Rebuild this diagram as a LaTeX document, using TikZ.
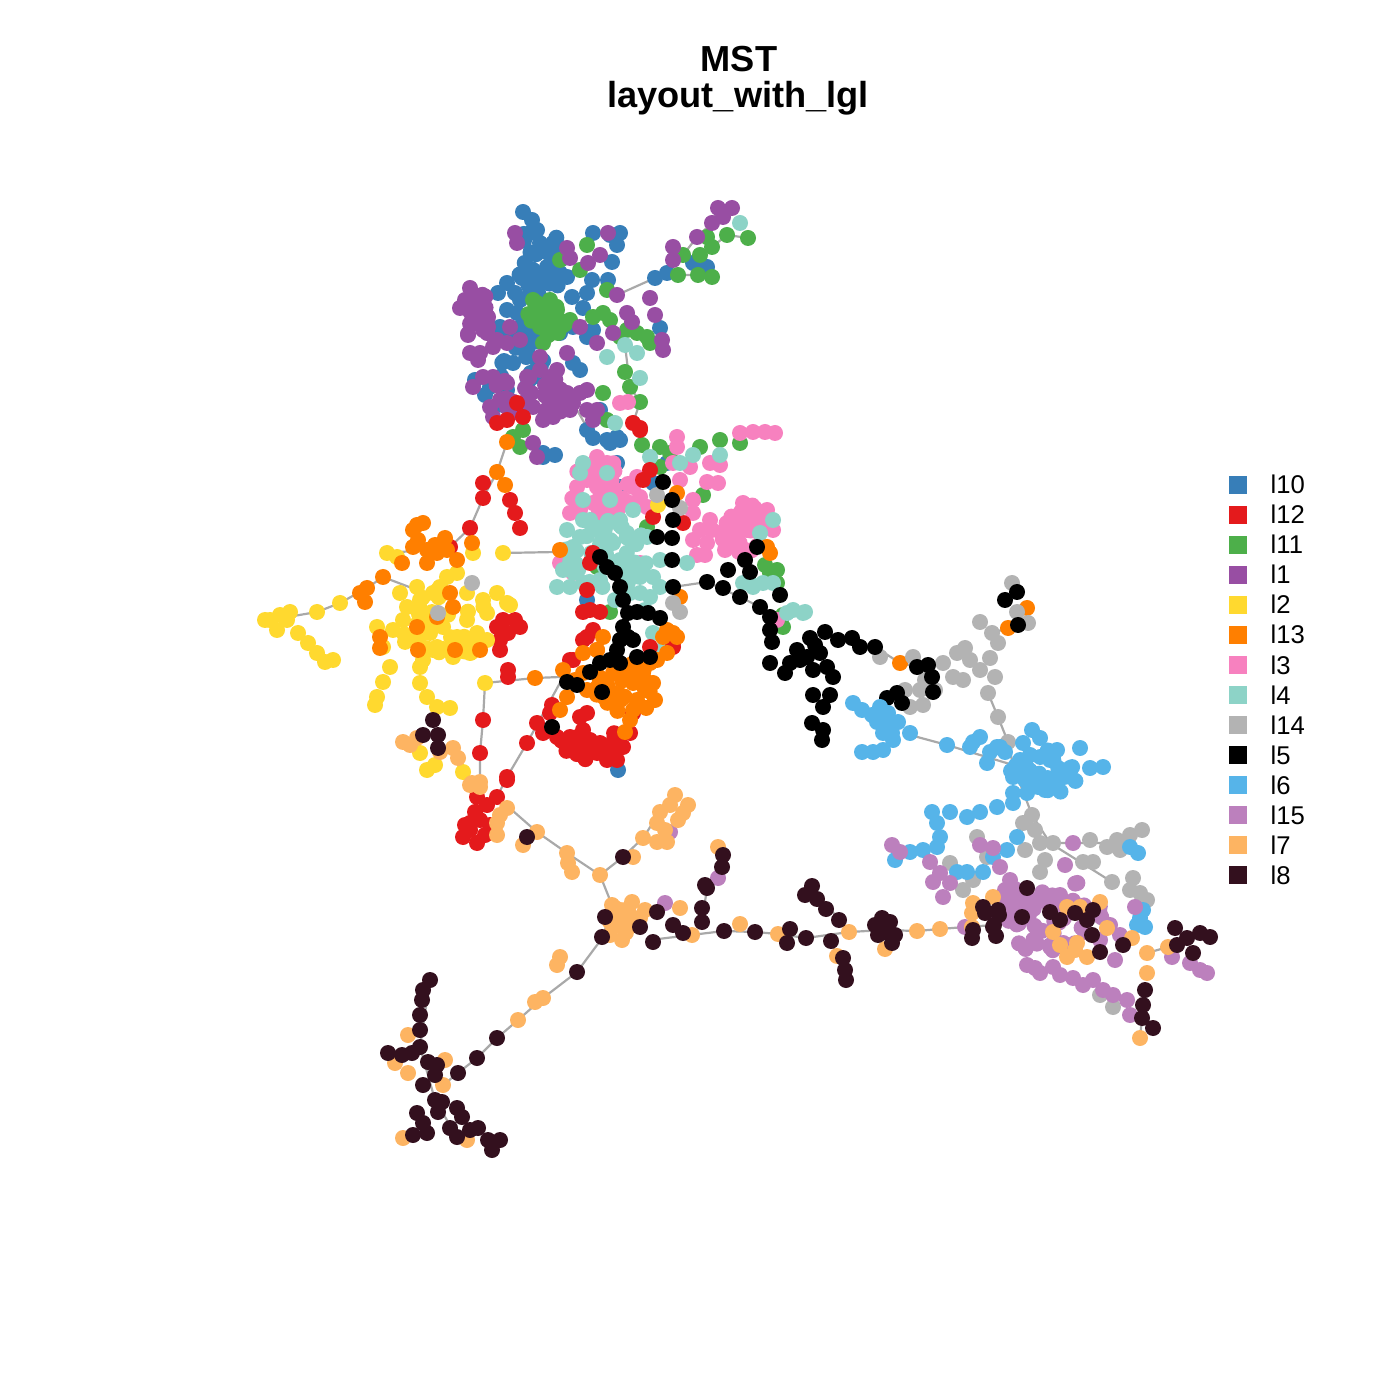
\documentclass[tikz,border=0pt]{standalone}
\usepackage{fontspec}
\setmainfont{Liberation Sans}
\usepackage{tikz}
\definecolor{cbl}{HTML}{377EB8}
\definecolor{crd}{HTML}{E41A1C}
\definecolor{cgn}{HTML}{4DAF4A}
\definecolor{cpu}{HTML}{984EA3}
\definecolor{cye}{HTML}{FFD92F}
\definecolor{cor}{HTML}{FF7F00}
\definecolor{cpk}{HTML}{F781BF}
\definecolor{cte}{HTML}{8DD3C7}
\definecolor{cgy}{HTML}{B3B3B3}
\definecolor{cbk}{HTML}{000000}
\definecolor{csk}{HTML}{56B4E9}
\definecolor{cmv}{HTML}{BC80BD}
\definecolor{clo}{HTML}{FDB462}
\definecolor{cdk}{HTML}{33101E}
\definecolor{edgegrey}{HTML}{A9A9A9}
\newcommand{\dotr}{0.8mm}
\newcommand{\dotlist}[2]{\foreach \x/\y in {#2}{\fill[#1] (\x,\y) circle (\dotr);}}
\newcommand{\dotblob}[6]{%
  \foreach \k in {1,...,#6}{%
    \pgfmathsetmacro{\dbA}{360*rnd}%
    \pgfmathsetmacro{\dbR}{sqrt(rnd)}%
    \fill[#1] ({#2+#4*\dbR*cos(\dbA)},{#3+#5*\dbR*sin(\dbA)}) circle (\dotr);
  }}

\begin{document}
\begin{tikzpicture}[x=0.1mm,y=-0.1mm,
  edge/.style={draw=edgegrey,line width=0.22mm},
  titletext/.style={font=\fontsize{10.3}{12}\selectfont\bfseries,inner sep=0pt,anchor=base},
  legtext/.style={font=\fontsize{7.3}{8}\selectfont,inner sep=0pt,anchor=base west}]
\useasboundingbox (0,0) rectangle (1400,1400);
\pgfmathsetseed{7}

\node[titletext] (title) at (739,72) {MST};
\node[titletext] (subtitle) at (738,108) {layout\_with\_lgl};

% tree edges
\draw[edge] (617,295) -- (655,278) -- (667,273) -- (678,275) -- (698,275) -- (712,277);
\draw[edge] (693,263) -- (712,247) -- (727,235) -- (748,238);
\draw[edge] (673,260) -- (683,255) -- (697,237) -- (712,223) -- (718,208);
\draw[edge] (560,273) -- (580,270) -- (600,255);
\draw[edge] (527,350) -- (560,333) -- (593,317);
\draw[edge] (573,403) -- (593,438) -- (610,443);
\draw[edge] (625,345) -- (630,387) -- (640,402) -- (633,423) -- (642,445);
\draw[edge] (507,442) -- (497,472) -- (483,498) -- (470,528) -- (450,547) -- (427,563);
\draw[edge] (503,553) -- (557,552);
\draw[edge] (270,620) -- (317,612) -- (340,603) -- (367,588) -- (383,577) -- (417,590);
\draw[edge] (387,553) -- (427,550);
\draw[edge] (485,683) -- (535,678) -- (560,677);
\draw[edge] (485,683) -- (483,720) -- (480,753) -- (480,785);
\draw[edge] (578,650) -- (527,743) -- (507,777) -- (497,797) -- (537,832) -- (567,853) -- (600,875) -- (612,905);
\draw[edge] (600,875) -- (623,857) -- (643,838) -- (660,812);
\draw[edge] (612,905) -- (603,937) -- (577,972) -- (543,998) -- (518,1020) -- (497,1038) -- (477,1058) -- (458,1073) -- (437,1090);
\draw[edge] (650,940) -- (724,931) -- (755,932) -- (778,934) -- (806,938) -- (849,932) -- (885,930) -- (917,931) -- (940,929) -- (965,927) -- (995,925);
\draw[edge] (849,932) -- (839,920) -- (812,886);
\draw[edge] (831,941) -- (846,980);
\draw[edge] (702,922) -- (707,888) -- (722,867) -- (723,855);
\draw[edge] (673,587) -- (707,582) -- (740,597) -- (760,607);
\draw[edge] (875,647) -- (900,663) -- (917,667);
\draw[edge] (988,693) -- (998,717) -- (1008,742) -- (1013,765);
\draw[edge] (910,735) -- (947,745) -- (1013,765);
\draw[edge] (1013,765) -- (1032,815) -- (1050,843) -- (1120,843);
\draw[edge] (1050,843) -- (1093,870) -- (1112,882);
\draw[edge] (1145,990) -- (1142,1018) -- (1140,1038);
\draw[edge] (1147,953) -- (1168,947) -- (1200,933);
\draw[edge] (430,980) -- (420,1047) -- (435,1100) -- (457,1137);
\draw[edge] (992,633) -- (1008,628) -- (1018,625);

% vertices, one colour at a time
\dotblob{cbl}{540}{262}{25}{38}{26}
\dotblob{cbl}{515}{355}{30}{30}{20}
\dotlist{cbl}{523/212, 532/220, 537/230, 540/243, 553/243, 557/257, 547/267, 533/270, 522/278, 507/283, 498/293, 515/293, 520/300, 572/297, 560/273, 567/277, 593/233, 610/235, 620/233, 617/245, 612/262, 608/280, 592/280, 507/310, 517/313, 500/327, 503/340, 517/333, 530/330, 527/350, 513/363, 490/387, 507/390, 540/377, 573/363, 580/370, 587/337, 593/330, 587/293, 583/308, 573/327, 560/333, 587/430, 593/438, 610/443, 617/437, 543/457, 655/278, 667/273, 693/263, 707/267, 660/328, 485/395, 498/405, 475/380, 555/455, 600/410, 587/600, 617/463, 620/487, 653/483, 667/463, 543/453, 607/440, 620/440, 618/770}

\dotblob{cgn}{548}{315}{20}{22}{18}
\dotlist{cgn}{537/303, 550/300, 540/317, 550/320, 557/310, 540/327, 533/300, 547/330, 570/320, 558/333, 560/260, 580/270, 587/245, 607/290, 593/317, 603/313, 610/320, 637/333, 647/337, 627/330, 650/343, 620/337, 543/343, 603/393, 640/402, 625/372, 607/420, 513/437, 523/430, 520/447, 642/445, 678/275, 698/275, 712/277, 683/255, 700/255, 712/247, 707/237, 727/235, 748/238, 630/387, 660/447, 670/453, 700/447, 720/440, 740/443, 660/467, 703/495, 647/527, 597/567, 610/612, 777/570, 773/580, 783/627, 770/573, 777/583, 783/615, 765/565}

\dotblob{cpu}{478}{318}{16}{26}{14}
\dotblob{cpu}{535}{395}{45}{20}{28}
\dotlist{cpu}{515/233, 517/243, 567/248, 570/258, 588/263, 600/255, 608/233, 470/288, 465/300, 460/308, 472/303, 480/313, 473/323, 488/317, 483/330, 470/353, 480/353, 493/347, 507/343, 510/327, 520/340, 497/340, 473/387, 483/377, 493/377, 507/383, 527/377, 540/370, 550/377, 557/370, 540/357, 567/353, 567/393, 580/393, 587/390, 573/403, 587/410, 597/410, 593/420, 553/417, 543/420, 533/407, 520/407, 490/407, 493/417, 547/390, 580/327, 597/343, 613/333, 627/313, 632/322, 650/298, 655/315, 662/340, 663/350, 533/443, 537/457, 617/295, 673/247, 673/260, 697/237, 712/223, 718/208, 732/208, 723/217, 478/360, 468/335, 500/400, 560/400, 570/410}

\dotblob{cpk}{600}{490}{30}{30}{24}
\dotblob{cpk}{742}{528}{28}{25}{18}
\dotlist{cpk}{740/433, 753/432, 765/432, 775/433, 677/437, 677/447, 710/463, 720/465, 707/482, 718/483, 693/500, 693/513, 710/520, 712/530, 693/540, 707/543, 697/555, 743/503, 753/510, 767/510, 740/520, 730/530, 733/540, 747/530, 773/530, 690/467, 680/480, 673/463, 597/457, 607/463, 577/487, 587/480, 597/487, 607/487, 570/513, 580/510, 593/503, 607/510, 620/500, 630/503, 637/477, 640/497, 647/507, 633/487, 560/563, 567/560, 573/573, 640/563, 633/543, 620/403, 628/402, 777/620, 725/550, 745/550, 760/545, 705/555, 700/530}

\dotblob{cte}{610}{555}{45}{35}{40}
\dotlist{cte}{583/463, 580/473, 607/473, 650/457, 680/463, 693/455, 720/455, 583/500, 610/500, 583/520, 567/530, 580/537, 593/530, 607/523, 620/520, 633/510, 627/533, 600/547, 613/543, 637/540, 647/537, 573/547, 563/570, 557/587, 570/587, 583/583, 620/560, 630/567, 640/577, 653/577, 660/587, 650/597, 640/593, 630/593, 653/633, 662/650, 687/563, 760/533, 773/520, 743/583, 753/587, 773/583, 787/613, 803/613, 625/345, 637/353, 607/357, 640/378, 615/423, 740/223, 750/583, 763/583, 793/610, 805/612, 600/580, 615/600, 645/610, 660/560, 590/520}

\dotblob{crd}{590}{742}{30}{20}{16}
\dotlist{crd}{497/423, 507/420, 517/403, 523/417, 633/423, 640/428, 650/470, 643/480, 653/517, 683/523, 593/553, 590/563, 587/590, 590/610, 600/612, 583/640, 593/630, 573/660, 650/647, 673/647, 640/430, 583/612, 587/637, 673/643, 570/660, 550/713, 537/723, 543/733, 557/737, 570/737, 580/717, 587/713, 583/730, 573/747, 590/740, 600/743, 597/753, 607/760, 613/753, 623/747, 617/760, 633/713, 630/733, 552/705, 483/483, 483/498, 510/500, 515/513, 520/528, 470/528, 450/547, 497/627, 503/620, 520/627, 500/650, 508/633, 500/640, 515/620, 483/720, 480/753, 508/677, 508/670, 527/743, 507/777, 497/797, 470/823, 480/820, 463/837, 477/843, 487/805, 477/797, 507/780, 470/830, 485/835, 490/825, 465/825, 475/812}

\dotblob{cye}{445}{625}{45}{38}{32}
\dotlist{cye}{503/553, 473/553, 387/553, 397/557, 340/603, 317/612, 290/612, 287/620, 270/620, 280/615, 265/620, 277/630, 298/633, 308/643, 317/653, 325/662, 333/660, 497/593, 507/603, 483/600, 487/613, 467/620, 477/633, 487/640, 470/653, 453/657, 437/647, 423/660, 410/640, 393/630, 377/627, 383/647, 403/620, 420/600, 407/607, 400/593, 433/593, 447/577, 440/587, 417/587, 457/573, 467/593, 457/637, 443/627, 430/633, 423/620, 390/667, 383/682, 377/697, 375/705, 420/667, 420/683, 427/697, 437/707, 450/708, 485/683, 427/770, 420/753, 463/772, 435/765, 658/505, 510/605}

\dotblob{cor}{620}{690}{35}{38}{24}
\dotlist{cor}{507/442, 497/472, 505/485, 472/543, 417/525, 423/523, 413/530, 418/540, 413/547, 427/550, 437/553, 447/550, 457/560, 427/563, 402/563, 435/545, 445/538, 383/577, 367/588, 360/593, 365/602, 450/593, 453/607, 437/617, 417/627, 380/637, 380/648, 418/650, 455/650, 480/650, 535/678, 563/670, 583/653, 597/650, 583/673, 603/680, 613/673, 567/697, 560/710, 587/690, 633/683, 643/673, 650/663, 663/637, 667/653, 653/683, 637/700, 633/710, 630/720, 625/732, 677/637, 680/597, 677/493, 767/547, 770/553, 560/550, 667/630, 673/633, 657/660, 603/637, 597/650, 620/695, 645/690, 575/680, 655/700, 900/663, 1008/628, 1027/608}

\dotlist{cgy}{472/583, 438/613, 657/495, 680/508, 673/603, 680/612, 880/657, 913/657, 910/707, 923/705, 957/653, 943/663, 953/677, 963/680, 980/670, 990/658, 995/677, 988/693, 980/622, 992/633, 998/643, 1012/583, 1017/612, 1028/623, 925/680, 935/690, 920/690, 970/660, 965/648, 905/690, 998/717, 1008/742, 977/837, 987/857, 950/863, 973/880, 963/890, 1032/815, 1023/823, 1040/843, 1053/843, 1040/872, 1035/830, 1045/860, 1025/850, 1090/840, 1117/840, 1130/835, 1142/830, 1107/847, 1120/850, 1083/862, 1093/862, 1112/882, 1133/878, 1140/893, 1147/900, 1130/890, 1113/1007, 1100/995}

\dotlist{cbk}{663/482, 672/500, 673/520, 657/537, 672/538, 672/560, 673/587, 600/557, 607/567, 615/573, 620/587, 623/600, 628/613, 637/612, 648/613, 660/618, 623/627, 628/637, 620/640, 633/640, 617/650, 610/660, 620/663, 637/657, 650/657, 600/663, 590/672, 567/682, 577/685, 602/692, 552/727, 707/582, 723/588, 740/597, 728/570, 750/572, 757/547, 745/560, 760/607, 770/617, 780/595, 770/630, 772/642, 770/663, 785/673, 797/650, 810/638, 825/632, 838/640, 852/638, 860/647, 875/647, 807/657, 820/653, 827/667, 833/677, 813/670, 800/660, 790/663, 815/645, 813/695, 830/695, 823/707, 812/723, 823/730, 822/740, 917/667, 928/665, 932/677, 933/692, 887/698, 897/693, 902/703, 1005/600, 1017/592, 1018/625}

\dotblob{csk}{1045}{772}{35}{25}{26}
\dotlist{csk}{853/703, 862/710, 880/707, 877/722, 888/713, 898/722, 883/733, 893/740, 910/733, 862/752, 873/752, 883/750, 872/715, 887/723, 892/733, 947/745, 973/742, 980/737, 990/752, 1000/747, 970/747, 987/763, 997/747, 1005/752, 1032/730, 1040/738, 1023/743, 1057/750, 1080/748, 1070/768, 1090/768, 1103/767, 1013/777, 1040/780, 1027/793, 1013/793, 1050/760, 1060/775, 1020/760, 1030/755, 1045/790, 1025/780, 1013/803, 997/807, 980/812, 967/817, 950/812, 932/812, 937/823, 940/837, 937/847, 923/850, 910/852, 895/860, 1017/837, 1007/850, 993/857, 983/872, 967/872, 957/872, 1130/847, 1138/853, 1143/910, 1137/925, 1145/927, 1140/918}

\dotblob{cmv}{1050}{915}{55}{38}{50}
\dotlist{cmv}{892/845, 900/852, 930/862, 980/845, 993/848, 1000/867, 940/873, 933/882, 950/883, 943/897, 1073/843, 1065/865, 1135/907, 1027/965, 1040/973, 1053/967, 1073/978, 1093/980, 1103/990, 1113/995, 1127/1000, 1130/1015, 1060/975, 1083/985, 1035/968, 1172/957, 1190/963, 1207/973, 1200/970, 670/832, 718/878, 665/903, 965/927, 1005/890, 1015/900, 1010/880, 1030/905, 1110/925, 1120/935, 1115/960, 1100/940, 1060/895, 1045/895}

\dotblob{clo}{625}{920}{18}{14}{10}
\dotlist{clo}{403/742, 417/738, 453/748, 458/758, 410/745, 440/752, 472/783, 480/782, 497/823, 497/835, 507/808, 470/785, 480/787, 500/815, 537/832, 523/845, 567/853, 568/863, 572/872, 600/875, 633/857, 643/838, 657/842, 667/842, 675/795, 683/813, 660/812, 657/823, 670/805, 688/805, 665/830, 678/820, 612/905, 620/910, 630/915, 615/925, 625/930, 635/925, 640/918, 610/935, 622/940, 645/910, 632/902, 680/908, 692/935, 718/847, 740/924, 778/934, 849/932, 837/956, 885/949, 917/931, 940/929, 972/913, 972/927, 560/957, 557/965, 543/998, 535/1002, 518/1020, 408/1035, 395/1063, 408/1073, 445/1060, 443/1085, 403/1138, 467/1140, 973/903, 993/897, 1067/907, 1080/907, 1100/902, 1107/928, 1053/932, 1077/943, 1087/957, 1067/957, 1132/938, 1147/953, 1147/973, 1140/1038, 1168/947, 1075/950, 1060/945}

\dotlist{cdk}{433/720, 423/735, 438/735, 438/748, 527/837, 623/857, 605/917, 602/937, 653/942, 640/927, 657/912, 673/925, 683/933, 702/922, 702/908, 707/888, 705/885, 722/867, 723/855, 724/931, 755/932, 790/929, 787/943, 806/938, 831/941, 843/958, 845/970, 846/980, 812/886, 805/895, 817/899, 826/909, 839/920, 875/925, 882/918, 890/922, 885/932, 895/935, 878/935, 892/943, 972/938, 985/913, 999/915, 994/925, 996/936, 577/972, 497/1038, 477/1058, 458/1073, 430/980, 423/990, 422/1000, 420/1015, 420/1030, 420/1047, 388/1053, 402/1055, 412/1053, 428/1062, 437/1065, 435/1075, 423/1085, 435/1100, 442/1102, 438/1112, 417/1113, 423/1123, 413/1135, 427/1133, 450/1128, 457/1108, 462/1117, 457/1137, 470/1130, 478/1128, 488/1140, 500/1140, 492/1150, 1027/888, 1022/917, 983/907, 998/910, 993/927, 973/930, 1050/912, 1060/920, 1075/913, 1087/920, 1093/910, 1092/935, 1100/952, 1123/945, 1145/990, 1143/1005, 1142/1018, 1153/1028, 1175/928, 1187/938, 1193/953, 1210/937, 1177/945, 1200/933}

% legend
\foreach \lab/\c [count=\i from 0] in {l10/cbl, l12/crd, l11/cgn, l1/cpu, l2/cye, l13/cor, l3/cpk, l4/cte, l14/cgy, l5/cbk, l6/csk, l15/cmv, l7/clo, l8/cdk} {
  \fill[\c] (1229,{476+30*\i}) rectangle +(18,18);
  \node[legtext] (leg\i) at (1270,{494+30*\i}) {\lab};
}
\end{tikzpicture}
\end{document}
